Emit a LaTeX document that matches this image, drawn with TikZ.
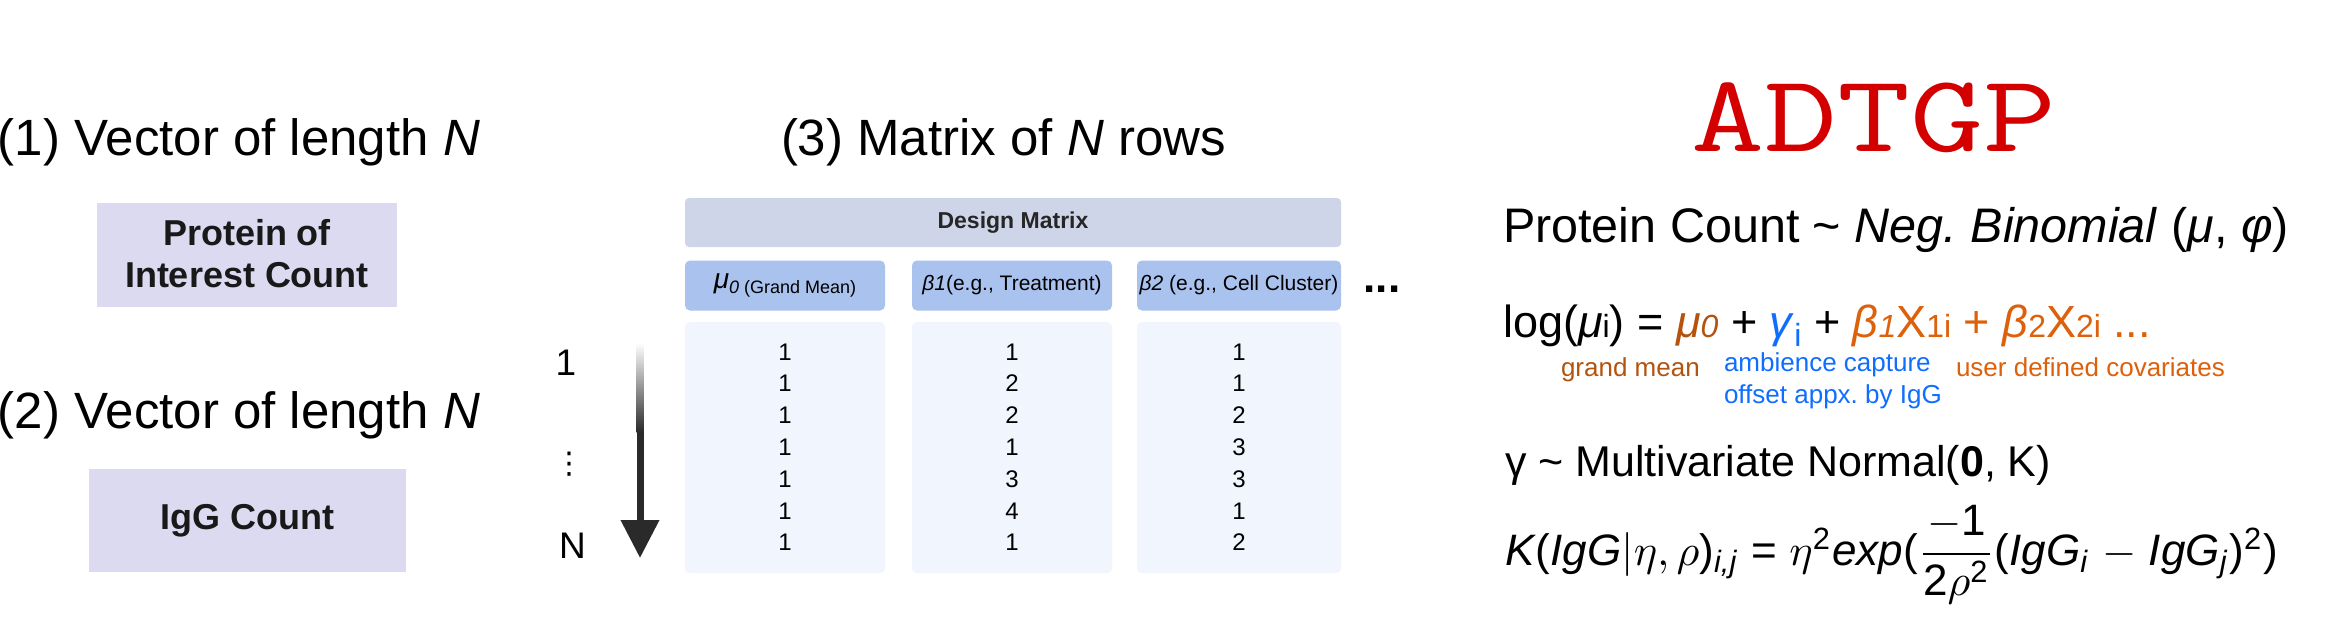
\documentclass[tikz,border=0pt]{standalone}
\usepackage{amsmath}
\usepackage{fontspec}
\setmainfont{Liberation Sans}
\newfontfamily\symfont{DejaVu Sans}
\usetikzlibrary{arrows.meta}
\definecolor{boxlav}{HTML}{DCDAF1}
\definecolor{hdrfill}{HTML}{CFD5E8}
\definecolor{colhdr}{HTML}{AAC2EE}
\definecolor{colbody}{HTML}{F0F5FE}
\definecolor{adtred}{HTML}{D40000}
\definecolor{cbrown}{HTML}{B4530E}
\definecolor{corange}{HTML}{DD600B}
\definecolor{cblue}{HTML}{0F6DFF}
\definecolor{arrowdark}{HTML}{2A2A2A}
\newcommand{\smallsub}[1]{{\fontsize{32}{32}\selectfont #1}}
\frenchspacing
\begin{document}
\begin{tikzpicture}[x=1pt,y=-1pt,
  every node/.style={inner sep=0pt, outer sep=0pt},
  title/.style={anchor=base west, font=\fontsize{51}{60}\selectfont},
  vecbox/.style={fill=boxlav, align=center, text=black!90, font=\bfseries\fontsize{36}{42}\selectfont},
  hdrbox/.style={fill=hdrfill, rounded corners=4pt, text=black!85, font=\bfseries\fontsize{23}{27}\selectfont},
  colbox/.style={fill=colhdr, rounded corners=5pt, minimum height=50pt, text=black, font=\fontsize{21}{25}\selectfont},
  bodybox/.style={fill=colbody, rounded corners=5pt, minimum height=251pt},
  digit/.style={anchor=base, font=\fontsize{24}{26}\selectfont},
  rowlab/.style={anchor=base, font=\fontsize{37}{40}\selectfont},
  eqline/.style={anchor=base west, font=\fontsize{45}{54}\selectfont},
  eqlabel/.style={anchor=base west, font=\fontsize{26}{32}\selectfont}
]
\useasboundingbox (0,0) rectangle (2329,629);
\fill[white] (0,0) rectangle (2329,629);

% titles
\node[title] (t1) at (-2,155) {(1) Vector of length \textit{N}};
\node[title] (t2) at (-2,428) {(2) Vector of length \textit{N}};
\node[title] (t3) at (781,155) {(3) Matrix of \textit{N} rows};

% vector boxes
\node[vecbox, minimum width=300pt, minimum height=104pt] (b1) at (247,255) {\raisebox{3pt}{Protein of}\\\raisebox{3pt}{Interest Count}};
\node[vecbox, minimum width=317pt, minimum height=103pt] (b2) at (247.5,520.5) {IgG Count};

% design matrix
\node[hdrbox, minimum width=656pt, minimum height=49pt] (dm) at (1013,222.5) {Design Matrix};
\node[colbox, minimum width=200pt] (c1) at (785,285.5)
  {{\fontsize{28}{30}\selectfont\textit{μ}}\raisebox{-5pt}{\fontsize{18}{20}\selectfont\textit{0} (Grand Mean)}};
\node[colbox, minimum width=200pt] (c2) at (1012,285.5) {\textit{β1}(e.g., Treatment)};
\node[colbox, minimum width=204pt] (c3) at (1239,285.5) {\textit{β2} (e.g., Cell Cluster)};
\node[anchor=base, font=\bfseries\fontsize{44}{44}\selectfont] (more) at (1382,292) {...};

\node[bodybox, minimum width=200pt] (d1) at (785,447.5) {};
\node[bodybox, minimum width=200pt] (d2) at (1012,447.5) {};
\node[bodybox, minimum width=204pt] (d3) at (1239,447.5) {};

\foreach \a/\b/\c [count=\r] in {1/1/1,1/2/1,1/2/2,1/1/3,1/3/3,1/4/1,1/1/2}{
  \pgfmathsetmacro{\yy}{328.3+31.8*\r}
  \node[digit] (va\r) at (785,\yy) {\a};
  \node[digit] (vb\r) at (1012,\yy) {\b};
  \node[digit] (vc\r) at (1239,\yy) {\c};
}

% row labels and arrow
\node[rowlab] (r1) at (566,375) {1};
\node[anchor=base, font=\symfont\fontsize{30}{32}\selectfont] (rdots) at (569,473) {⋮};
\node[rowlab] (rN) at (572.5,558) {N};
\coordinate (atop) at (640,343);
\coordinate (amid) at (640,432);
\coordinate (atip) at (640,558);
\shade[top color=white, bottom color=arrowdark] ([xshift=-3.5pt]atop) rectangle ([xshift=3.5pt]amid);
\draw[line width=7pt, arrowdark, -{Triangle[width=37pt,length=38pt]}] ([yshift=0.5pt]amid) -- (atip);

% right side
\node[anchor=base, font=\ttfamily\fontsize{110}{120}\selectfont, text=adtred] (adt) at (1874,151) {\scalebox{1.29}[1]{ADTGP}};
\node[eqline, font=\fontsize{48.5}{56}\selectfont] (e1) at (1503,242) {Protein Count \textasciitilde{} \textit{Neg. Binomial} (\textit{μ}, \textit{φ})};
\node[eqline] (e2) at (1503,337) {log(\textit{μ}\smallsub{i}) = {\color{cbrown}\textit{μ}\smallsub{\textit{0}}} + {\color{cblue}\textit{γ}\raisebox{-9pt}{\smallsub{i}}} + {\color{corange}\textit{β}\smallsub{\textit{1}}X\smallsub{1i} + \textit{β}\smallsub{2}X\smallsub{2i} ...}};
\node[eqlabel, text=cbrown] (l1) at (1561,376) {grand mean};
\node[eqlabel, text=cblue, align=left, anchor=north west] (l2) at (1724,353) {ambience capture\\offset appx. by IgG};
\node[eqlabel, text=corange] (l3) at (1956,376) {user defined covariates};
\node[eqline, font=\fontsize{43}{52}\selectfont] (e3) at (1505,476) {γ \textasciitilde{} Multivariate Normal(\textbf{0}, K)};
\node[eqline] (e4) at (1505,565) {\scalebox{4.4}{\fontsize{10}{12}\selectfont\textit{K}(\textit{IgG}$|\eta, \rho$)\textsubscript{\textit{i,j}} = $\eta^{\text{2}}$\textit{exp}($\dfrac{-\text{1}}{\text{2}\rho^{\text{2}}}$(\textit{IgG}\textsubscript{\textit{i}} $-$ \textit{IgG}\textsubscript{\textit{j}})\textsuperscript{2})}};
\end{tikzpicture}
\end{document}
